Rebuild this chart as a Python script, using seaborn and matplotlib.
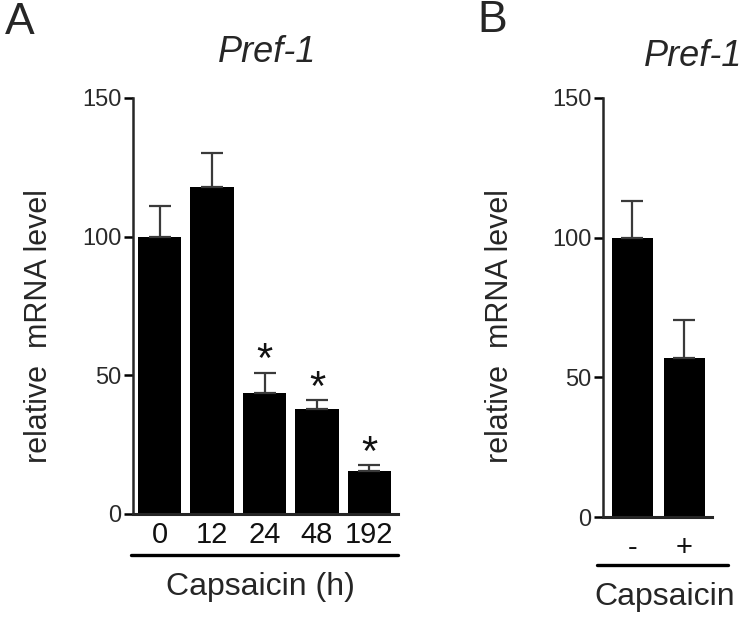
import numpy as np
import matplotlib
matplotlib.use("Agg")
import matplotlib.pyplot as plt
import seaborn as sns

# === Data ===
time_labels = ["0", "12", "24", "48", "192"]
time_means = [100, 118, 43.5, 38, 15.5]
time_err = [11, 12, 7.5, 3, 2]
time_sig = [False, False, True, True, True]

treat_labels = ["-", "+"]
treat_means = [100, 57]
treat_err = [13, 13.5]

sns.set_theme(style="ticks")
plt.rcParams["font.family"] = ["Liberation Sans", "DejaVu Sans"]

fig = plt.figure(figsize=(7.5, 6.17), dpi=100)
W, H = 750, 617


def fx(px):
    return px / W


def fy(py):
    return 1 - py / H


axA = fig.add_axes([fx(133), fy(514), fx(398) - fx(133), fy(98) - fy(514)])
axB = fig.add_axes([fx(603), fy(517), fx(712) - fx(603), fy(98) - fy(517)])


def draw_panel(ax, labels, means, errs, width, xlim, pad):
    sns.barplot(x=labels, y=means, order=labels, color="black", saturation=1,
                width=width, errorbar=None, edgecolor="black", linewidth=0, ax=ax)
    x = np.arange(len(labels))
    ax.errorbar(x, means, yerr=[np.zeros(len(errs)), errs], fmt="none",
                ecolor="#3a3a3a", elinewidth=1.6, capsize=8, capthick=1.6)
    ax.set_ylim(0, 150)
    ax.set_xlim(*xlim)
    ax.set_yticks([0, 50, 100, 150])
    ax.tick_params(axis="y", direction="out", length=6.5, width=1.8,
                   labelsize=17, colors="black", labelcolor="#2a2a2a", pad=2)
    ax.tick_params(axis="x", length=0, labelsize=21, pad=pad, labelcolor="#111111")
    sns.despine(ax=ax)
    ax.spines["left"].set_linewidth(1.8)
    ax.spines["bottom"].set_linewidth(2.2)
    ax.set_xlabel("")
    ax.set_ylabel("")


draw_panel(axA, time_labels, time_means, time_err, 0.82, (-0.505, 4.543), 5)
draw_panel(axB, treat_labels, treat_means, treat_err, 0.8, (-0.567, 1.529), 12)

# significance stars
for i, (m, e, s) in enumerate(zip(time_means, time_err, time_sig)):
    if s:
        axA.text(i, m + e - 3.0, "*", ha="center", va="bottom", fontsize=30,
                 color="#111111")

# underlines below the tick labels
axA.plot([-0.008, 1.0], [-0.099, -0.099], transform=axA.transAxes,
         color="black", lw=2.4, clip_on=False)
axB.plot([-0.055, 1.147], [-0.115, -0.115], transform=axB.transAxes,
         color="black", lw=2.4, clip_on=False)

# labels and titles
fig.text(fx(260), fy(587), "Capsaicin (h)", ha="center", va="center", fontsize=23)
fig.text(fx(665), fy(597), "Capsaicin", ha="center", va="center", fontsize=23)
fig.text(fx(39), fy(326), "relative  mRNA level", rotation=90, ha="center",
         va="center", fontsize=22)
fig.text(fx(500), fy(326), "relative  mRNA level", rotation=90, ha="center",
         va="center", fontsize=22)
fig.text(fx(267), fy(53), "Pref-1", ha="center", va="center", fontsize=26,
         style="italic")
fig.text(fx(693), fy(56), "Pref-1", ha="center", va="center", fontsize=26,
         style="italic")
fig.text(fx(20), fy(23), "A", ha="center", va="center", fontsize=32)
fig.text(fx(492), fy(21), "B", ha="center", va="center", fontsize=32)

fig.savefig("out.png", dpi=100)
